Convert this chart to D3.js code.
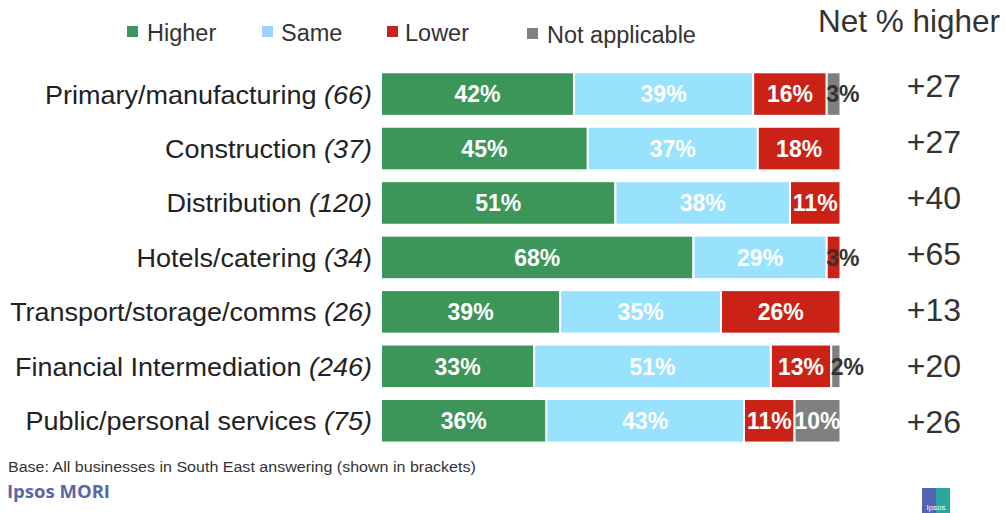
<!DOCTYPE html>
<html>
<head>
<meta charset="utf-8">
<script src="https://cdnjs.cloudflare.com/ajax/libs/d3/7.8.5/d3.min.js"></script>
<style>
  html, body { margin: 0; padding: 0; background: #fff; }
  svg { display: block; font-family: "Liberation Sans", Arial, sans-serif; }
</style>
</head>
<body>
<svg id="chart" width="1005" height="513"></svg>
<script>
// Sector names and base sizes
const sectors = ["Primary/manufacturing", "Construction", "Distribution", "Hotels/catering",
                 "Transport/storage/comms", "Financial Intermediation", "Public/personal services"];
const bases = ["66", "37", "120", "34", "26", "246", "75"];

// Response shares (%)
const higher = [42, 45, 51, 68, 39, 33, 36];
const same   = [39, 37, 38, 29, 35, 51, 43];
const lower  = [16, 18, 11, 3, 26, 13, 11];
const notApplicable = [3, 0, 0, 0, 0, 2, 10];

// Net % higher
const net = ["+27", "+27", "+40", "+65", "+13", "+20", "+26"];

const seriesNames = ["Higher", "Same", "Lower", "Not applicable"];
const seriesColors = ["#3c9659", "#99e2fe", "#cb2218", "#808080"];
const legendColors = ["#3c9659", "#9fd0ff", "#cb2218", "#808080"];

const svg = d3.select("#chart");

// Horizontal stretch for text anchored at its own x
function stretch(sel, sx) {
  sel.attr("transform", function () {
    const x0 = +d3.select(this).attr("x") || 0;
    return `translate(${x0},0) scale(${sx},1) translate(${-x0},0)`;
  });
}

const x = d3.scaleLinear().domain([0, 100]).range([381, 840.5]);
const y = d3.scaleBand().domain(sectors).range([66.85, 448]).paddingInner(0.2).paddingOuter(0.1);
const yNet = d3.scaleBand().domain(sectors).range([57, 449]);

// Each bar shows the shares of its own row total
const rows = sectors.map((s, i) => {
  const total = higher[i] + same[i] + lower[i] + notApplicable[i];
  return {
    sector: s, base: bases[i], net: net[i], total,
    Higher: higher[i], Same: same[i], Lower: lower[i], "Not applicable": notApplicable[i]
  };
});

const stacked = d3.stack()
  .keys(seriesNames)
  .offset(d3.stackOffsetExpand)(rows);

svg.append("defs").append("clipPath").attr("id", "plot-clip")
  .append("rect").attr("x", x(0)).attr("y", 0).attr("width", x(100) - x(0)).attr("height", 513);

// Stacked bar segments
stacked.forEach((layer, li) => {
  const key = seriesNames[li];
  const segs = layer.filter(d => d.data[key] > 0);
  const g = svg.append("g");
  g.selectAll("rect")
    .data(segs)
    .join("rect")
    .attr("x", d => x(d[0] * 100))
    .attr("y", d => y(d.data.sector))
    .attr("width", d => x(d[1] * 100) - x(d[0] * 100))
    .attr("height", y.bandwidth())
    .attr("fill", seriesColors[li])
    .attr("stroke", "#fff")
    .attr("stroke-width", 2);

  // Values inside wide segments
  const inside = svg.append("g").attr("clip-path", "url(#plot-clip)");
  inside.selectAll("text")
    .data(segs.filter(d => d.data[key] >= 5))
    .join("text")
    .attr("x", d => (x(d[0] * 100) + x(d[1] * 100)) / 2)
    .attr("y", d => y(d.data.sector) + y.bandwidth() / 2)
    .attr("dy", "0.36em")
    .attr("text-anchor", "middle")
    .attr("font-size", 23)
    .attr("font-weight", "bold")
    .attr("fill", "#fff")
    .text(d => d.data[key] + "%");

  // Values for narrow segments start at the segment and run past it
  g.selectAll("text")
    .data(segs.filter(d => d.data[key] < 5))
    .join("text")
    .attr("x", d => x(d[0] * 100) - 0.5)
    .attr("y", d => y(d.data.sector) + y.bandwidth() / 2)
    .attr("dy", "0.36em")
    .attr("text-anchor", "start")
    .attr("font-size", 23)
    .attr("font-weight", "bold")
    .attr("fill", "#333")
    .text(d => d.data[key] + "%");
});

// Category labels with base sizes
const labels = svg.append("g").selectAll("text")
  .data(rows)
  .join("text")
  .attr("x", 372)
  .attr("y", d => y(d.sector) + y.bandwidth() / 2 + 9.5)
  .attr("text-anchor", "end")
  .attr("font-size", 25)
  .attr("fill", "#222");
labels.append("tspan").text(d => d.sector + " ");
labels.append("tspan").attr("font-style", "italic").text(d => "(" + d.base + (d.base === "34" ? "" : ")"));
labels.filter(d => d.base === "34").append("tspan").text(")");
stretch(labels, 1.08);

// Net % higher column
svg.append("text")
  .attr("x", 909).attr("y", 32)
  .attr("text-anchor", "middle")
  .attr("font-size", 31.5)
  .attr("fill", "#333")
  .text("Net % higher");

svg.append("g").selectAll("text")
  .data(rows)
  .join("text")
  .attr("x", 934)
  .attr("y", d => yNet(d.sector) + yNet.bandwidth() / 2 + 11.5)
  .attr("text-anchor", "middle")
  .attr("font-size", 32)
  .attr("fill", "#333")
  .text(d => d.net);

// Legend
const legendSquareX = [127, 262, 387, 527];
const legendTextX = [147, 281, 405, 547];
const legendBaseline = [41, 41, 41, 43];
const legend = svg.append("g").selectAll("g")
  .data(seriesNames)
  .join("g");
legend.append("rect")
  .attr("x", (d, i) => legendSquareX[i])
  .attr("y", (d, i) => legendBaseline[i] - 15)
  .attr("width", 11).attr("height", 11)
  .attr("fill", (d, i) => legendColors[i]);
legend.append("text")
  .attr("x", (d, i) => legendTextX[i])
  .attr("y", (d, i) => legendBaseline[i])
  .attr("font-size", 23.5).attr("fill", "#333").text(d => d);

// Footnote
const foot = svg.append("text")
  .attr("x", 8).attr("y", 472)
  .attr("font-size", 15)
  .attr("fill", "#333")
  .text("Base: All businesses in South East answering (shown in brackets)");
stretch(foot, 1.07);

// Brand marks
svg.append("text")
  .attr("x", 7).attr("y", 498)
  .attr("font-family", "'Open Sans', 'DejaVu Sans', sans-serif")
  .attr("font-size", 18.5)
  .attr("font-weight", "bold")
  .attr("fill", "#5867a6")
  .text("Ipsos MORI");

const logo = svg.append("g").attr("transform", "translate(922,488)");
logo.append("rect").attr("width", 14).attr("height", 25).attr("fill", "#5563b0");
logo.append("rect").attr("x", 14).attr("width", 14).attr("height", 25).attr("fill", "#2aa8a0");
logo.append("text").attr("x", 14).attr("y", 22).attr("text-anchor", "middle")
  .attr("font-size", 8).attr("fill", "#fff").text("Ipsos");
</script>
</body>
</html>
